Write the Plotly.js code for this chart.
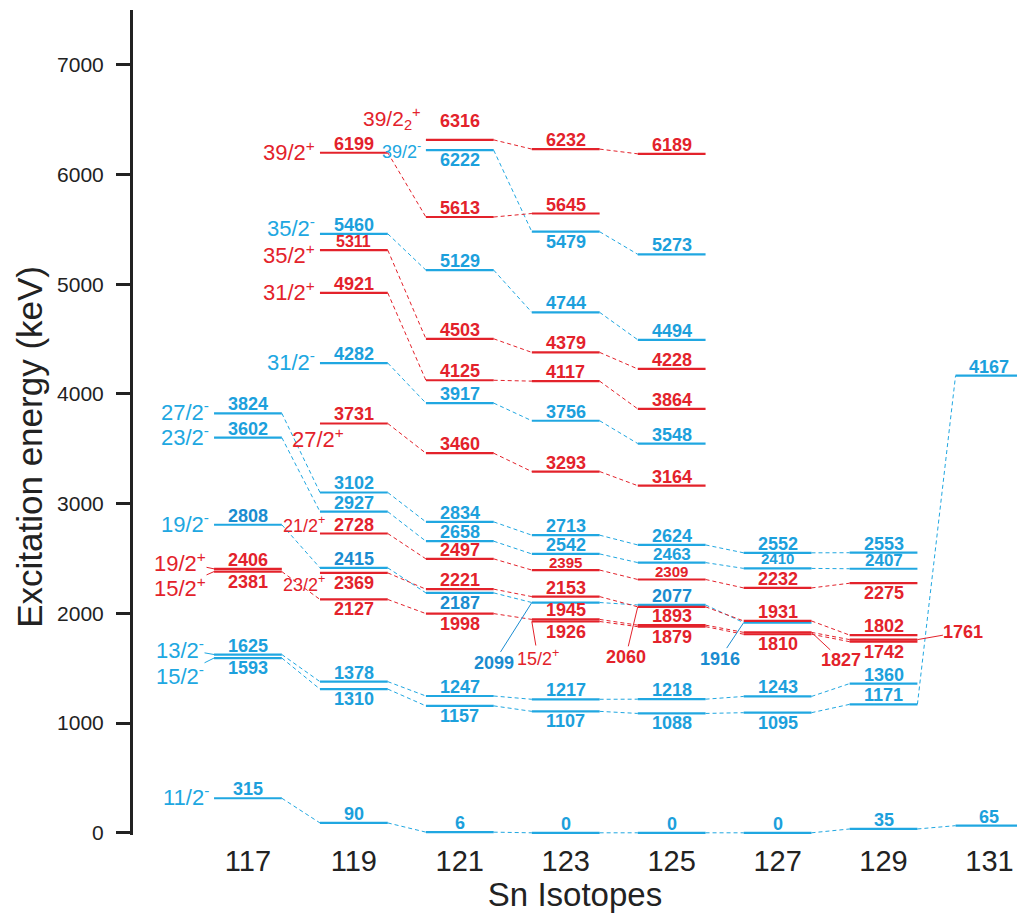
<!DOCTYPE html>
<html><head><meta charset="utf-8">
<script src="https://cdn.plot.ly/plotly-3.0.1.min.js"></script>
<style>html,body{margin:0;padding:0;background:#fff}#chart{width:1017px;height:913px}</style>
</head><body><div id="chart"></div>
<script>
// ---------------- data ----------------
const isotopes = [117, 119, 121, 123, 125, 127, 129, 131];
const isotopeLabels = ['117', '119', '121', '123', '125', '127', '129', '131'];

// negative-parity bands (blue), one value per isotope (null = not shown)
const neg_11_2  = [315, 90, 6, 0, 0, 0, 35, 65];
const neg_13_2  = [1625, 1378, 1247, 1217, 1218, 1243, 1360, null];
const neg_15_2  = [1593, 1310, 1157, 1107, 1088, 1095, 1171, 4167];
const neg_19_2  = [2808, 2415, 2187, 2099, 2077, 1916, null, null];
const neg_23_2  = [3602, 2927, 2658, 2542, 2463, 2410, 2407, null];
const neg_27_2  = [3824, 3102, 2834, 2713, 2624, 2552, 2553, null];
const neg_31_2  = [null, 4282, 3917, 3756, 3548, null, null, null];
const neg_35_2  = [null, 5460, 5129, 4744, 4494, null, null, null];
const neg_39_2  = [null, null, 6222, 5479, 5273, null, null, null];

// positive-parity bands (red)
const pos_15_2a = [2381, 2127, 1998, 1945, 1893, 1827, 1761, null];
const pos_15_2b = [null, null, null, 1926, 1879, 1810, 1742, null];
const pos_19_2  = [2406, null, null, null, null, null, null, null];
const pos_23_2  = [null, 2369, 2221, 2153, 2060, 1931, 1802, null];
const pos_21_2  = [null, 2728, 2497, 2395, 2309, 2232, 2275, null];
const pos_27_2  = [null, 3731, 3460, 3293, 3164, null, null, null];
const pos_31_2  = [null, 4921, 4125, 4117, 3864, null, null, null];
const pos_35_2  = [null, 5311, 4503, 4379, 4228, null, null, null];
const pos_39_2  = [null, 6199, 5613, 5645, null, null, null, null];
const pos_39_2b = [null, null, 6316, 6232, 6189, null, null, null];

// spin labels attached to levels
const spinIso   = [117, 117, 117, 117, 117, 117, 117, 117, 119, 119, 119, 119, 119, 119, 119, 119, 121, 121, 123];
const spinE     = [315, 1625, 1593, 2406, 2381, 2808, 3602, 3824, 2369, 2728, 3731, 4282, 4921, 5311, 5460, 6199, 6222, 6316, 1926];
const spinText  = ['11/2<sup>-</sup>', '13/2<sup>-</sup>', '15/2<sup>-</sup>', '19/2<sup>+</sup>', '15/2<sup>+</sup>',
                   '19/2<sup>-</sup>', '23/2<sup>-</sup>', '27/2<sup>-</sup>', '23/2<sup>+</sup>', '21/2<sup>+</sup>',
                   '27/2<sup>+</sup>', '31/2<sup>-</sup>', '31/2<sup>+</sup>', '35/2<sup>+</sup>', '35/2<sup>-</sup>',
                   '39/2<sup>+</sup>', '39/2<sup>-</sup>', '39/2<sub>2</sub><sup>+</sup>', '15/2<sup>+</sup>'];
const spinParity = ['-', '-', '-', '+', '+', '-', '-', '-', '+', '+', '+', '-', '+', '+', '-', '+', '-', '+', '+'];

// ---------------- style ----------------
const BLUE = '#20A7E1', BLUE_TXT = '#1CA0DC', BLUE_DARK = '#1A8CD0', RED = '#E3222B';
const FONT = 'Liberation Sans, Arial, sans-serif';
const HW = 0.64;

const negBands = [neg_11_2, neg_13_2, neg_15_2, neg_19_2, neg_23_2, neg_27_2, neg_31_2, neg_35_2, neg_39_2];
const posBands = [pos_15_2a, pos_15_2b, pos_19_2, pos_23_2, pos_21_2, pos_27_2, pos_31_2, pos_35_2, pos_39_2, pos_39_2b];

const below = new Set(['117:1593', '117:2381', '119:1310', '119:2127', '119:2369', '121:1157', '121:1998', '121:2187',
  '121:6222', '123:1107', '123:1926', '123:5479', '125:1088', '125:1879', '127:1095', '127:1810', '129:1742', '129:2275']);
const numShift = {'121:6316': 10, '127:2410': 2, '119:5311': 1};
const numCallouts = {
  '123:2099': {side: -1, ax: -38, ay: 60},
  '125:2060': {side: -1, ax: -12, ay: 50},
  '127:1916': {side: -1, ax: -24, ay: 36},
  '127:1827': {side: 1, ax: 30, ay: 28},
  '129:1761': {side: 1, ax: 46, ay: -8}
};
const numSize = {'123:2395': 15, '125:2309': 15, '125:2463': 17, '127:2410': 15, '129:2407': 17, '119:5311': 16};
const spinStyle = {
  '117:1625': {ax: -34, ay: -6}, '117:1593': {ax: -34, ay: 17},
  '117:2406': {ax: -34, ay: -7}, '117:2381': {ax: -34, ay: 15},
  '119:2369': {dx: 10, dy: -11, size: 18}, '119:2728': {dx: 10, dy: 9, size: 18},
  '119:3731': {dx: 29, dy: -15}, '119:5460': {dy: 7}, '119:5311': {dy: -4},
  '121:6222': {dy: 0, size: 18}, '121:6316': {dy: 21, size: 21},
  '123:1926': {ax: 6, ay: 36, size: 18}
};

// ---------------- build traces ----------------
function buildLines(bands) {
  const lx = [], ly = [], cx = [], cy = [];
  bands.forEach(b => {
    b.forEach((v, i) => {
      if (v === null) return;
      const iso = isotopes[i];
      lx.push(iso - HW, iso + HW, null); ly.push(v, v, null);
      if (i + 1 < b.length && b[i + 1] !== null) {
        cx.push(iso + HW, isotopes[i + 1] - HW, null); cy.push(v, b[i + 1], null);
      }
    });
  });
  return {lx, ly, cx, cy};
}
const nb = buildLines(negBands), pb = buildLines(posBands);
const traces = [
  {x: nb.cx, y: nb.cy, mode: 'lines', line: {color: BLUE, width: 1, dash: '4px,3px'}, hoverinfo: 'skip'},
  {x: pb.cx, y: pb.cy, mode: 'lines', line: {color: RED, width: 1, dash: '4px,3px'}, hoverinfo: 'skip'},
  {x: nb.lx, y: nb.ly, mode: 'lines', line: {color: BLUE, width: 2.2}, hoverinfo: 'skip'},
  {x: pb.lx, y: pb.ly, mode: 'lines', line: {color: RED, width: 2.2}, hoverinfo: 'skip'}
];

// ---------------- annotations ----------------
const ann = [];
function addNumbers(bands, color, isNeg) {
  bands.forEach(b => {
    b.forEach((v, i) => {
      if (v === null) return;
      const iso = isotopes[i], key = iso + ':' + v;
      let c = color;
      if (isNeg && b === neg_19_2) c = BLUE_DARK;
      const size = numSize[key] || 18;
      const co = numCallouts[key];
      if (co) {
        ann.push({x: iso + co.side * HW, y: v, xref: 'x', yref: 'y', text: '<b>' + v + '</b>',
          showarrow: true, arrowhead: 0, arrowwidth: 1, arrowcolor: c, ax: co.ax, ay: co.ay, standoff: 0,
          borderpad: 0, font: {family: FONT, size: size, color: c}});
      } else {
        const isBelow = below.has(key);
        ann.push({x: iso, y: v, xref: 'x', yref: 'y', text: '<b>' + v + '</b>', showarrow: false,
          yanchor: isBelow ? 'top' : 'bottom', yshift: (isBelow ? 1 : -2) + (numShift[key] || 0),
          borderpad: 0, font: {family: FONT, size: size, color: c}});
      }
    });
  });
}
addNumbers(negBands, BLUE_TXT, true);
addNumbers(posBands, RED, false);

spinIso.forEach((iso, k) => {
  const e = spinE[k], key = iso + ':' + e, st = spinStyle[key] || {};
  const c = spinParity[k] === '-' ? BLUE : RED;
  const size = st.size || 22;
  if (st.ax !== undefined) {
    ann.push({x: iso - HW, y: e, xref: 'x', yref: 'y', text: spinText[k], showarrow: true, arrowhead: 0,
      arrowwidth: 1, arrowcolor: c, ax: st.ax, ay: st.ay, standoff: 0, borderpad: 0,
      font: {family: FONT, size: size, color: c}});
  } else {
    ann.push({x: iso - HW, y: e, xref: 'x', yref: 'y', text: spinText[k], showarrow: false,
      xanchor: 'right', yanchor: 'middle', xshift: (st.dx || 0) - 4, yshift: (st.dy !== undefined ? st.dy : 2),
      borderpad: 0, font: {family: FONT, size: size, color: c}});
  }
});

// y-axis title (placed as annotation so it can sit slightly below the axis centre, as in the reference)
ann.push({xref: 'paper', yref: 'paper', x: -0.117, y: 0.47, xanchor: 'center', yanchor: 'middle',
  text: 'Excitation energy (keV)', textangle: -90, showarrow: false,
  font: {family: FONT, size: 35, color: '#222'}});

const layout = {
  width: 1017, height: 913,
  margin: {l: 133, r: 0, t: 10, b: 78},
  paper_bgcolor: '#fff', plot_bgcolor: '#fff',
  showlegend: false,
  xaxis: {
    range: [114.83, 131.52], tickvals: isotopes, ticktext: isotopeLabels,
    showgrid: false, zeroline: false, showline: false, ticks: '',
    tickfont: {family: FONT, size: 29, color: '#222'}, ticklabelstandoff: 6,
    title: {text: 'Sn Isotopes', font: {family: FONT, size: 33, color: '#222'}, standoff: 8}
  },
  yaxis: {
    range: [-20, 7500], tickvals: [0, 1000, 2000, 3000, 4000, 5000, 6000, 7000],
    showgrid: false, zeroline: false, showline: true, linewidth: 3, linecolor: '#222',
    ticks: 'outside', ticklen: 14, tickwidth: 3, tickcolor: '#222', ticklabelstandoff: 8,
    tickfont: {family: FONT, size: 21, color: '#222'}
  },
  annotations: ann
};
Plotly.newPlot('chart', traces, layout, {displayModeBar: false, staticPlot: true});
</script>
</body></html>
